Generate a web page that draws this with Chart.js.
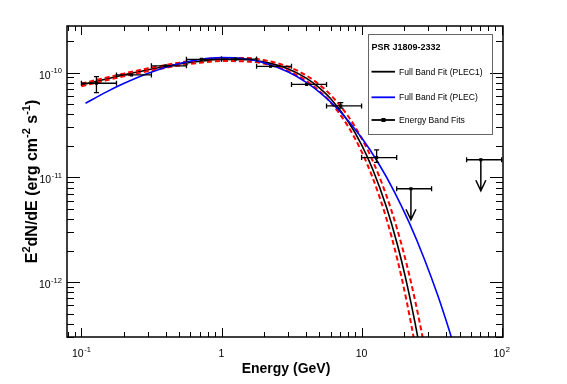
<!DOCTYPE html>
<html>
<head>
<meta charset="utf-8">
<title>PSR J1809-2332</title>
<script src="https://cdn.jsdelivr.net/npm/chart.js@4.4.1/dist/chart.umd.min.js"></script>
<style>
  html, body { margin: 0; padding: 0; background: #fff; }
  canvas { display: block; }
</style>
</head>
<body>
<canvas id="sedChart" width="567" height="384"></canvas>
<script>
// energy band fits (GeV, erg cm^-2 s^-1)
const bandEnergy = [0.128, 0.228, 0.40, 0.72, 1.26, 2.24, 4.05, 7.1, 12.8];
const bandLow = [0.1, 0.178, 0.316, 0.562, 1.0, 1.78, 3.16, 5.62, 10.0];
const bandHigh = [0.178, 0.316, 0.562, 1.0, 1.78, 3.16, 5.62, 10.0, 17.8];
const bandFlux = [7.93e-11, 9.51e-11, 1.164e-10, 1.342e-10, 1.349e-10, 1.151e-10, 7.72e-11, 4.82e-11, 1.548e-11];
const bandFluxLow = [6.45e-11, 9.3e-11, 1.14e-10, 1.315e-10, 1.32e-10, 1.125e-10, 7.5e-11, 4.58e-11, 1.39e-11];
const bandFluxHigh = [9.16e-11, 9.7e-11, 1.19e-10, 1.37e-10, 1.375e-10, 1.175e-10, 7.95e-11, 5.18e-11, 1.836e-11];

// upper limits
const ulEnergy = [22.5, 71];
const ulLow = [17.8, 56.2];
const ulHigh = [31.6, 100];
const ulFlux = [7.8e-12, 1.476e-11];

// full band fit PLEC1 and its error band (red dashed)
const curveEnergy = [0.1, 0.15, 0.2, 0.3, 0.5, 0.7, 1, 1.5, 2, 3, 4, 5, 6, 8, 10, 12, 15, 18, 21, 24, 27, 30];
const plec1Flux = [7.64e-11, 8.71e-11, 9.51e-11, 1.068e-10, 1.209e-10, 1.285e-10, 1.335e-10, 1.329e-10, 1.269e-10, 1.087e-10, 8.93e-11, 7.16e-11, 5.66e-11, 3.44e-11, 2.05e-11, 1.198e-11, 5.27e-12, 2.29e-12, 9.81e-13, 4.18e-13, 1.77e-13, 7.46e-14];
const plec1Upper = [7.87e-11, 8.97e-11, 9.80e-11, 1.101e-10, 1.247e-10, 1.326e-10, 1.380e-10, 1.378e-10, 1.320e-10, 1.140e-10, 9.46e-11, 7.68e-11, 6.15e-11, 3.86e-11, 2.37e-11, 1.443e-11, 6.78e-12, 3.17e-12, 1.473e-12, 6.85e-13, 3.19e-13, 1.49e-13];
const plec1Lower = [7.41e-11, 8.45e-11, 9.23e-11, 1.036e-10, 1.172e-10, 1.245e-10, 1.291e-10, 1.282e-10, 1.220e-10, 1.036e-10, 8.43e-11, 6.68e-11, 5.22e-11, 3.08e-11, 1.766e-11, 9.94e-12, 4.10e-12, 1.649e-12, 6.53e-13, 2.55e-13, 9.8e-14, 3.74e-14];

// full band fit PLEC (blue)
const plecEnergy = [0.107, 0.15, 0.2, 0.3, 0.5, 0.7, 1, 1.5, 2, 3, 4, 5, 7, 10, 13, 17, 22, 28, 35, 42, 48];
const plecFlux = [5.10e-11, 6.52e-11, 7.87e-11, 9.88e-11, 1.223e-10, 1.337e-10, 1.392e-10, 1.350e-10, 1.246e-10, 1.015e-10, 8.14e-11, 6.53e-11, 4.28e-11, 2.39e-11, 1.411e-11, 7.46e-12, 3.64e-12, 1.676e-12, 7.46e-13, 3.55e-13, 1.97e-13];

// axis labels
const xTickValues = [0.1, 1, 10, 100];
const xTickLabels = [['10', '-1'], ['1', ''], ['10', ''], ['10', '2']];
const yTickValues = [1e-12, 1e-11, 1e-10];
const yTickLabels = [['10', '-12'], ['10', '-11'], ['10', '-10']];
const xTitle = 'Energy (GeV)';
const yTitle = [['E', 0], ['2', 1], ['dN/dE (erg cm', 0], ['-2', 1], [' s', 0], ['-1', 1], [')', 0]];
const legendTitle = 'PSR J1809-2332';
const legendLabels = ['Full Band Fit (PLEC1)', 'Full Band Fit (PLEC)', 'Energy Band Fits'];

const FONT = '"Liberation Sans", Arial, Helvetica, sans-serif';

function pts(xs, ys) {
    return xs.map((v, i) => ({ x: v, y: ys[i] }));
}

function drawPow(ctx, base, exp, x, y, align, size) {
    ctx.font = size + 'px ' + FONT;
    const wb = ctx.measureText(base).width;
    const es = size * 0.72;
    ctx.font = es + 'px ' + FONT;
    const we = exp ? ctx.measureText(exp).width + 0.5 : 0;
    const total = wb + we;
    const x0 = align === 'right' ? x - total : x - total / 2;
    ctx.textAlign = 'left';
    ctx.textBaseline = 'alphabetic';
    ctx.font = size + 'px ' + FONT;
    ctx.fillText(base, x0, y);
    if (exp) {
        ctx.font = es + 'px ' + FONT;
        ctx.fillText(exp, x0 + wb + 0.5, y - size * 0.5);
    }
}

function logTicks(min, max) {
    const out = [];
    for (let d = Math.floor(Math.log10(min)); d <= Math.ceil(Math.log10(max)); d++) {
        for (let k = 1; k <= 9; k++) {
            const v = k * Math.pow(10, d);
            if (v >= min && v <= max) out.push([v, k === 1]);
        }
    }
    return out;
}

const rootStyle = {
    id: 'rootStyle',
    afterDatasetsDraw(chart) {
        const { ctx, scales: { x, y } } = chart;
        ctx.save();
        ctx.strokeStyle = '#000';
        ctx.fillStyle = '#000';
        ctx.lineWidth = 1.3;
        const cap = 2.5;
        const hbar = (xl, xh, py) => {
            ctx.beginPath();
            ctx.moveTo(xl, py); ctx.lineTo(xh, py);
            ctx.moveTo(xl, py - cap); ctx.lineTo(xl, py + cap);
            ctx.moveTo(xh, py - cap); ctx.lineTo(xh, py + cap);
            ctx.stroke();
        };
        bandEnergy.forEach((e, i) => {
            const px = x.getPixelForValue(e);
            const py = y.getPixelForValue(bandFlux[i]);
            hbar(x.getPixelForValue(bandLow[i]), x.getPixelForValue(bandHigh[i]), py);
            const yl = y.getPixelForValue(bandFluxLow[i]);
            const yh = y.getPixelForValue(bandFluxHigh[i]);
            if (yl - yh > 5) {
                ctx.beginPath();
                ctx.moveTo(px, yl); ctx.lineTo(px, yh);
                ctx.moveTo(px - cap, yl); ctx.lineTo(px + cap, yl);
                ctx.moveTo(px - cap, yh); ctx.lineTo(px + cap, yh);
                ctx.stroke();
            }
        });
        ulEnergy.forEach((e, i) => {
            const px = x.getPixelForValue(e);
            const py = y.getPixelForValue(ulFlux[i]);
            ctx.lineWidth = 1.3;
            hbar(x.getPixelForValue(ulLow[i]), x.getPixelForValue(ulHigh[i]), py);
            ctx.lineWidth = 1.5;
            const tip = py + 31;
            ctx.beginPath();
            ctx.moveTo(px, py); ctx.lineTo(px, tip);
            ctx.moveTo(px - 5, tip - 10.5); ctx.lineTo(px, tip); ctx.lineTo(px + 5, tip - 10.5);
            ctx.stroke();
        });
        ctx.restore();
    },
    afterDraw(chart) {
        const { ctx, chartArea: a, scales: { x, y } } = chart;
        ctx.save();
        ctx.strokeStyle = '#000';
        ctx.fillStyle = '#000';

        // ticks on all four sides, pointing inwards
        ctx.lineWidth = 1;
        ctx.beginPath();
        logTicks(x.min, x.max).forEach(([v, major]) => {
            const px = Math.round(x.getPixelForValue(v)) + 0.5;
            const len = major ? 9 : 5;
            ctx.moveTo(px, a.bottom); ctx.lineTo(px, a.bottom - len);
            ctx.moveTo(px, a.top); ctx.lineTo(px, a.top + len);
        });
        logTicks(y.min, y.max).forEach(([v, major]) => {
            const py = Math.round(y.getPixelForValue(v)) + 0.5;
            const len = major ? 13 : 7;
            ctx.moveTo(a.left, py); ctx.lineTo(a.left + len, py);
            ctx.moveTo(a.right, py); ctx.lineTo(a.right - len, py);
        });
        ctx.stroke();

        ctx.lineWidth = 1.5;
        ctx.strokeRect(a.left, a.top, a.right - a.left, a.bottom - a.top);

        // tick labels
        xTickValues.forEach((v, i) => {
            drawPow(ctx, xTickLabels[i][0], xTickLabels[i][1], x.getPixelForValue(v), a.bottom + 20, 'center', 10.5);
        });
        yTickValues.forEach((v, i) => {
            drawPow(ctx, yTickLabels[i][0], yTickLabels[i][1], a.left - 5, y.getPixelForValue(v) + 6, 'right', 10.5);
        });

        // axis titles
        ctx.font = 'bold 14px ' + FONT;
        ctx.textAlign = 'center';
        ctx.textBaseline = 'alphabetic';
        ctx.fillText(xTitle, (a.left + a.right) / 2 + 1, a.bottom + 36);

        ctx.save();
        ctx.translate(37, (a.top + a.bottom) / 2);
        ctx.rotate(-Math.PI / 2);
        let total = 0;
        yTitle.forEach(([s, sup]) => {
            ctx.font = 'bold ' + (sup ? 11 : 16) + 'px ' + FONT;
            total += ctx.measureText(s).width;
        });
        let cx = -total / 2;
        ctx.textAlign = 'left';
        yTitle.forEach(([s, sup]) => {
            ctx.font = 'bold ' + (sup ? 11 : 16) + 'px ' + FONT;
            ctx.fillText(s, cx, sup ? -7 : 0);
            cx += ctx.measureText(s).width;
        });
        ctx.restore();

        // legend box
        const lx = 368.5, ly = 34.5, lw = 124, lh = 100;
        ctx.lineWidth = 1;
        ctx.strokeStyle = '#666';
        ctx.strokeRect(lx, ly, lw, lh);
        ctx.textAlign = 'left';
        ctx.font = 'bold 9px ' + FONT;
        ctx.fillText(legendTitle, lx + 3, ly + 15);
        const rowY = [71.7, 97.3, 120];
        const rowColor = ['#000', '#0000ff', '#000'];
        ctx.font = '8.6px ' + FONT;
        legendLabels.forEach((t, i) => {
            ctx.strokeStyle = rowColor[i];
            ctx.lineWidth = 1.8;
            ctx.beginPath();
            ctx.moveTo(lx + 3, rowY[i]); ctx.lineTo(lx + 26.5, rowY[i]);
            ctx.stroke();
            if (i === 2) ctx.fillRect(lx + 13, rowY[i] - 2, 4, 4);
            ctx.fillStyle = '#000';
            ctx.fillText(t, lx + 30.5, rowY[i] + 3);
        });
        ctx.restore();
    }
};

function initializeChart() {
    const ctx = document.getElementById('sedChart').getContext('2d');
    const curve = {
        showLine: true,
        pointRadius: 0,
        fill: false,
        cubicInterpolationMode: 'monotone'
    };
    new Chart(ctx, {
        type: 'scatter',
        data: {
            datasets: [
                {
                    label: 'Energy Band Fits',
                    data: pts(bandEnergy, bandFlux),
                    pointStyle: 'rect',
                    pointRadius: 2.2,
                    backgroundColor: '#000',
                    borderColor: '#000',
                    borderWidth: 0
                },
                {
                    label: 'Upper limits',
                    data: pts(ulEnergy, ulFlux),
                    pointStyle: 'rect',
                    pointRadius: 2.2,
                    backgroundColor: '#000',
                    borderColor: '#000',
                    borderWidth: 0
                },
                Object.assign({ label: 'Full Band Fit (PLEC)', data: pts(plecEnergy, plecFlux), borderColor: '#0000ff', borderWidth: 1.6 }, curve),
                Object.assign({ label: 'PLEC1 upper', data: pts(curveEnergy, plec1Upper), borderColor: '#ff0000', borderWidth: 2, borderDash: [5, 3] }, curve),
                Object.assign({ label: 'PLEC1 lower', data: pts(curveEnergy, plec1Lower), borderColor: '#ff0000', borderWidth: 2, borderDash: [5, 3] }, curve),
                Object.assign({ label: 'Full Band Fit (PLEC1)', data: pts(curveEnergy, plec1Flux), borderColor: '#000', borderWidth: 1.6 }, curve)
            ]
        },
        options: {
            responsive: false,
            animation: false,
            layout: { padding: { left: 67, top: 26, right: 64, bottom: 47 } },
            scales: {
                x: { type: 'logarithmic', min: 0.0789, max: 102.2, display: false },
                y: { type: 'logarithmic', min: 3.02e-13, max: 2.79e-10, display: false }
            },
            plugins: {
                legend: { display: false },
                tooltip: { enabled: false }
            }
        },
        plugins: [rootStyle]
    });
}

if (document.readyState === 'loading') {
    document.addEventListener('DOMContentLoaded', initializeChart);
} else {
    initializeChart();
}
</script>
</body>
</html>
